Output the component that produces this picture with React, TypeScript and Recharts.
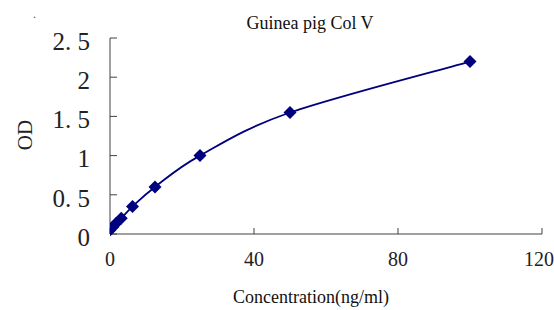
import React from "react";
import { LineChart, Line, XAxis, YAxis } from "recharts";

const concentrations = [0, 0.78, 1.56, 3.125, 6.25, 12.5, 25, 50, 100];
const odValues = [0.05, 0.09, 0.13, 0.2, 0.35, 0.6, 1.0, 1.55, 2.2];
const xTicks = [0, 40, 80, 120];
const yTicks = [0, 0.5, 1, 1.5, 2, 2.5];

const data = concentrations.map((x, i) => ({ x, od: odValues[i] }));

const NAVY = "#00007f";
const AXIS = "#404040";
const SERIF = "'Liberation Serif', 'DejaVu Serif', serif";

// Spreadsheet-style smoothed line (uniform Catmull-Rom as cubic Bezier)
const smoothCurve: any = (context: any) => {
  let pts: number[][] = [];
  return {
    areaStart() {},
    areaEnd() {},
    lineStart() {
      pts = [];
    },
    point(x: number, y: number) {
      pts.push([+x, +y]);
    },
    lineEnd() {
      if (!pts.length) return;
      context.moveTo(pts[0][0], pts[0][1]);
      for (let i = 0; i < pts.length - 1; i++) {
        const p0 = pts[i - 1] || pts[i];
        const p1 = pts[i];
        const p2 = pts[i + 1];
        const p3 = pts[i + 2] || pts[i + 1];
        const c1x = p1[0] + (p2[0] - p0[0]) / 6;
        const c1y = p1[1] + (p2[1] - p0[1]) / 6;
        const c2x = p2[0] - (p3[0] - p1[0]) / 6;
        const c2y = p2[1] - (p3[1] - p1[1]) / 6;
        context.bezierCurveTo(c1x, c1y, c2x, c2y, p2[0], p2[1]);
      }
    },
  };
};

const Diamond = (props: any) => {
  const { cx, cy } = props;
  if (cx == null || cy == null) return null;
  const r = 6.5;
  return (
    <polygon
      points={`${cx},${cy - r} ${cx + r},${cy} ${cx},${cy + r} ${cx - r},${cy}`}
      fill={NAVY}
      stroke="none"
    />
  );
};

const fmtY = (v: number) => (Number.isInteger(v) ? String(v) : String(v).replace(".", ". "));

export default function App() {
  return (
    <div style={{ position: "absolute", left: 0, top: 0, width: 554, height: 310, background: "#fff" }}>
      <LineChart
        width={554}
        height={310}
        data={data}
        margin={{ top: 38, right: 12, bottom: 46, left: 0 }}
      >
        <XAxis
          type="number"
          dataKey="x"
          domain={[0, 120]}
          ticks={xTicks}
          allowDataOverflow
          height={30}
          stroke={AXIS}
          tickSize={-6}
          tickMargin={24}
          tick={{ fill: "#222", fontSize: 20, fontFamily: SERIF }}
        />
        <YAxis
          type="number"
          domain={[0, 2.5]}
          ticks={yTicks}
          width={110}
          stroke={AXIS}
          tickSize={-7}
          tickMargin={27}
          tickFormatter={fmtY}
          tick={{ fill: "#222", fontSize: 25, fontFamily: SERIF, dy: 3 }}
        />
        <Line
          dataKey="od"
          type={smoothCurve}
          stroke={NAVY}
          strokeWidth={1.8}
          dot={<Diamond />}
          activeDot={false}
          isAnimationActive={false}
        />
      </LineChart>
      <div
        style={{
          position: "absolute",
          left: 310,
          top: 23,
          transform: "translate(-50%, -50%)",
          fontFamily: SERIF,
          fontSize: 18,
          lineHeight: 1,
          whiteSpace: "nowrap",
          color: "#111",
        }}
      >
        Guinea pig Col V
      </div>
      <div
        style={{
          position: "absolute",
          left: 311,
          top: 297,
          transform: "translate(-50%, -50%)",
          fontFamily: SERIF,
          fontSize: 18,
          lineHeight: 1,
          whiteSpace: "nowrap",
          color: "#111",
        }}
      >
        Concentration(ng/ml)
      </div>
      <div
        style={{
          position: "absolute",
          left: 25,
          top: 135,
          transform: "translate(-50%, -50%) rotate(-90deg)",
          fontFamily: SERIF,
          fontSize: 21,
          lineHeight: 1,
          whiteSpace: "nowrap",
          color: "#222",
        }}
      >
        OD
      </div>
      <div
        style={{
          position: "absolute",
          left: 33,
          top: 8,
          fontFamily: SERIF,
          fontSize: 12,
          lineHeight: 1,
          color: "#555",
        }}
      >
        .
      </div>
    </div>
  );
}
